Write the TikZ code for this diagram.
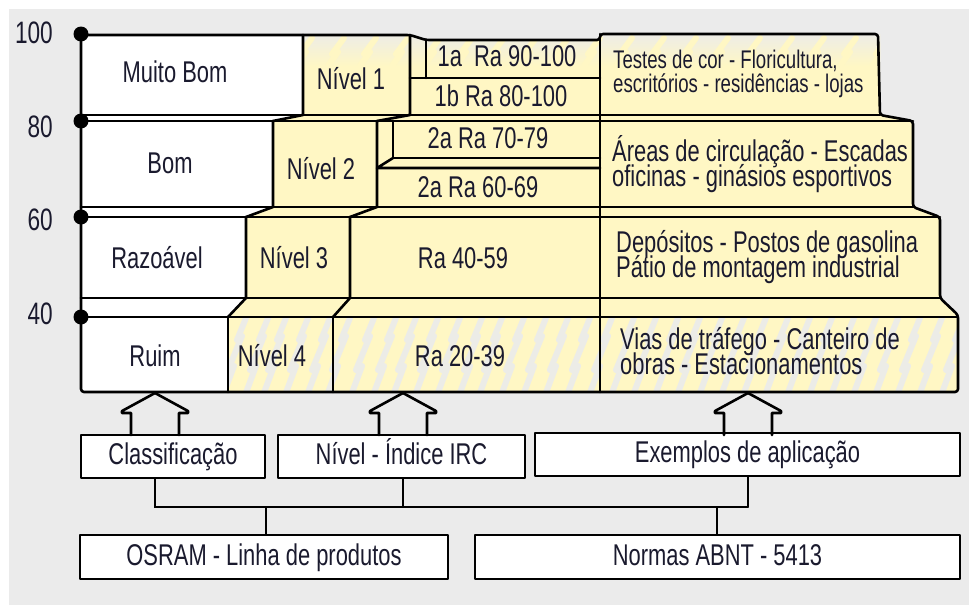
\documentclass[tikz,border=0pt]{standalone}
\usepackage{fontspec}
\setmainfont{Liberation Sans}[FakeStretch=0.73]
\usetikzlibrary{calc}
\definecolor{bg}{RGB}{235,235,235}
\definecolor{yel}{RGB}{255,247,196}
\definecolor{txt}{RGB}{26,26,46}
\tikzset{
  ln/.style={line width=2.6pt, line join=round, line cap=round},
  conn/.style={line width=1.6pt, line cap=round},
  lbl/.style={text=txt, font=\fontsize{30}{24}\selectfont, inner sep=0pt, anchor=base},
  applbl/.style={text=txt, font=\fontsize{30}{24}\selectfont, inner sep=0pt, anchor=base west},
  smalllbl/.style={text=txt, font=\fontsize{25.5}{22}\selectfont, inner sep=0pt, anchor=base west},
  axlbl/.style={text=txt, font=\fontsize{31}{31}\selectfont, inner sep=0pt, anchor=base east},
  bbox/.style={draw, ln, fill=white, text=txt, font=\fontsize{30}{24}\selectfont,
               inner sep=0pt, text height=21pt, text depth=5pt},
  axdot/.style={circle, fill=black, draw=none, inner sep=0pt, minimum size=15pt},
  streak/.style={bg, line width=6pt, line cap=round, line join=round, opacity=0.9},
  ystreak/.style={yel, line width=6pt, line cap=round, line join=round},
}
\newcommand\blockarrow[1]{%
  \draw[ln] ($(#1)+(-24,42)$) -- ++(0,-22) -- ++(-9,0) -- ++(0,-2) -- (#1)
            -- ++(33,18) -- ++(0,2) -- ++(-9,0) -- ++(0,22);}
\begin{document}
\begin{tikzpicture}[x=1pt,y=-1pt]
\useasboundingbox (0,0) rectangle (969,605);
\fill[bg] (9,9) rectangle (969,605);

% ---- fills of the block
\fill[yel] (303,35) -- (410,35) -- (426,40) -- (600,40) -- (600,34) -- (880,34)
  -- (880,115) -- (913,121) -- (913,207) -- (940,217) -- (940,298) -- (958,315)
  -- (958,392) -- (228,392) -- (228,317) -- (246,298) -- (246,217) -- (273,207)
  -- (273,121) -- (303,115) -- cycle;
\fill[white] (81,35) -- (303,35) -- (303,115) -- (273,121) -- (273,207) -- (246,217)
  -- (246,298) -- (228,317) -- (228,392) -- (81,392) -- cycle;

% ---- texture (row 4 and top of row 1)
\begin{scope}
  \clip (228,317) rectangle (958,392);
  \foreach \x in {222,244,262,284,306,326,350,372,392,414,436,458,478,500,522,544,566,588,610,632,654,676,698,720,742,764,786,808,830,852,874,896,918,940}{
    \draw[streak] (\x,398) -- (\x+12,366) -- (\x+6,370) -- (\x+20,336) -- (\x+15,340) -- (\x+24,318);
  }
\end{scope}
\begin{scope}
  \clip (303,35) -- (410,35) -- (426,40) -- (600,40) -- (600,34) -- (880,34) -- (880,70) -- (303,70) -- cycle;
  \shade[top color=bg, bottom color=yel] (300,30) rectangle (885,66);
  \foreach \x in {296,328,360,392,424,456,488,520,552,584,616,648,680,712,744,776,808,840,872}{
    \draw[ystreak] (\x,66) -- (\x+10,52) -- (\x+4,54) -- (\x+16,38);
  }
\end{scope}

% ---- outline of the block
\draw[ln, rounded corners=3pt] (81,392) -- (81,35) -- (410,35) -- (426,40) -- (600,40)
  -- (600,34) -- (878,34) -- (880,115) -- (913,121) -- (913,207) -- (940,217)
  -- (940,298) -- (958,315) -- (958,392) -- cycle;
% row lines
\draw[ln] (81,115) -- (880,115);
\draw[ln] (81,121) -- (913,121);
\draw[ln] (81,207) -- (913,207);
\draw[ln] (81,217) -- (940,217);
\draw[ln] (81,298) -- (940,298);
\draw[ln] (81,317) -- (958,317);
\draw[ln] (600,34) -- (600,392);
% row 1
\draw[ln] (303,35) -- (303,115) -- (273,121);
\draw[ln] (410,35) -- (410,115) -- (377,121);
\draw[ln] (426,40) -- (426,78);
\draw[ln] (410,78) -- (600,78);
% row 2
\draw[ln] (273,121) -- (273,207) -- (246,217);
\draw[ln] (377,121) -- (377,207) -- (350,217);
\draw[ln] (393,121) -- (393,158) -- (600,158);
\draw[ln] (393,158) -- (377,168) -- (600,168);
% row 3
\draw[ln] (246,217) -- (246,298) -- (228,317);
\draw[ln] (350,217) -- (350,298) -- (333,317);
% row 4
\draw[ln] (228,317) -- (228,392);
\draw[ln] (333,317) -- (333,392);

% ---- axis
\node[axdot] (d100) at (81,34) {};
\node[axdot] (d80) at (81,121) {};
\node[axdot] (d60) at (81,217) {};
\node[axdot] (d40) at (81,317) {};
\node[axlbl] (l100) at (53,43) {100};
\node[axlbl] (l80) at (53,137) {80};
\node[axlbl] (l60) at (53,230) {60};
\node[axlbl] (l40) at (53,324) {40};

% ---- labels row 1
\node[lbl] (mb) at (175,82) {Muito Bom};
\node[lbl] (n1) at (351,89) {Nível 1};
\node[lbl] (r1a) at (507,66) {1a\ \ Ra 90-100};
\node[lbl] (r1b) at (501,106) {1b Ra 80-100};
\node[smalllbl] (ap1a) at (613,68) {Testes de cor - Floricultura,};
\node[smalllbl] (ap1b) at (613,92) {escritórios - residências - lojas};
% row 2
\node[lbl] (bom) at (170,173) {Bom};
\node[lbl] (n2) at (321,179) {Nível 2};
\node[lbl] (r2a) at (488,148) {2a Ra 70-79};
\node[lbl] (r2b) at (478,197) {2a Ra 60-69};
\node[applbl] (ap2a) at (612,161) {Áreas de circulação - Escadas};
\node[applbl] (ap2b) at (612,186) {oficinas - ginásios esportivos};
% row 3
\node[lbl] (raz) at (157,268) {Razoável};
\node[lbl] (n3) at (294,268) {Nível 3};
\node[lbl] (r3) at (463,268) {Ra 40-59};
\node[applbl] (ap3a) at (616,252) {Depósitos - Postos de gasolina};
\node[applbl] (ap3b) at (616,277) {Pátio de montagem industrial};
% row 4
\node[lbl] (ruim) at (155,366) {Ruim};
\node[lbl] (n4) at (272,366) {Nível 4};
\node[lbl] (r4) at (460,366) {Ra 20-39};
\node[applbl] (ap4a) at (620,349) {Vias de tráfego - Canteiro de};
\node[applbl] (ap4b) at (620,374) {obras - Estacionamentos};

% ---- bottom boxes
\node[bbox, minimum width=184pt, minimum height=43pt] (cls) at (173,456.5) {Classificação};
\node[bbox, minimum width=247pt, minimum height=43pt] (niv) at (401.5,456.5) {Nível - Índice IRC};
\node[bbox, minimum width=425pt, minimum height=43pt] (exe) at (747.5,454.5) {Exemplos de aplicação};
\node[bbox, minimum width=368pt, minimum height=44pt] (osr) at (264,557) {OSRAM - Linha de produtos};
\node[bbox, minimum width=485pt, minimum height=44pt] (nor) at (717.5,557) {Normas ABNT - 5413};

% ---- arrows up to the block
\coordinate (a1) at (155,393);
\coordinate (a2) at (403,393);
\coordinate (a3) at (748,393);
\blockarrow{a1}
\blockarrow{a2}
\blockarrow{a3}

% ---- connectors
\coordinate (j1) at (155,507);
\coordinate (j2) at (403,507);
\coordinate (j3) at (748,507);
\coordinate (jo) at (266,507);
\coordinate (jn) at (717,507);
\draw[conn] (cls.south -| j1) -- (j1) -- (j3);
\draw[conn] (niv.south -| j2) -- (j2);
\draw[conn] (exe.south -| j3) -- (j3);
\draw[conn] (jo) -- (osr.north -| jo);
\draw[conn] (jn) -- (nor.north -| jn);
\end{tikzpicture}
\end{document}
